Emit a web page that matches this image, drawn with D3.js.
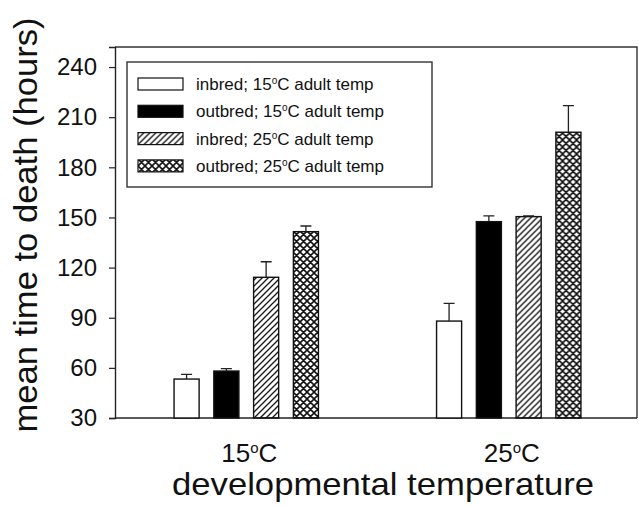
<!DOCTYPE html>
<html>
<head>
<meta charset="utf-8">
<script src="https://cdn.jsdelivr.net/npm/d3@7"></script>
<style>
	body { margin: 0; background: #fff; }
	text { font-family: "Liberation Sans", Arial, sans-serif; fill: #111; }
</style>
</head>
<body>
<div id="chart"></div>
<script>

// developmental temperature groups (degrees C)
const groups = ['15', '25'];

// series = line x adult temperature
const seriesLines = ['inbred', 'outbred', 'inbred', 'outbred'];
const seriesTemps = ['15', '15', '25', '25'];

// mean time to death (hours), one row per group
const means = [
	[53.3, 58.1, 114.2, 141.5],
	[88.0, 147.5, 150.5, 201.0]
];

// upper error (SE)
const errors = [
	[2.8, 1.5, 9.3, 3.4],
	[10.6, 3.4, 0.5, 15.9]
];

const yTicks = [30, 60, 90, 120, 150, 180, 210, 240];

class GroupedBars {

	constructor(options) {
		this.element = options.element;
		this.draw();
	}

	draw() {
		this.width = 639;
		this.height = 506;
		this.left = 115;
		this.right = 637;
		this.top = 47;
		this.bottom = 418;

		this.createSVG();
		this.createPatterns();
		this.createScales();
		this.createAxes();
		this.createBars();
		this.createLegend();
	}

	createSVG() {
		this.svg = d3.select(this.element)
			.append('svg')
				.attr('width', this.width)
				.attr('height', this.height);
	}

	createPatterns() {
		const defs = this.svg.append('defs');

		defs.append('pattern')
			.attr('id', 'hatch')
			.attr('patternUnits', 'userSpaceOnUse')
			.attr('width', 6).attr('height', 6)
			.append('path')
				.attr('d', 'M0,6 L6,0 M-1,1 L1,-1 M5,7 L7,5')
				.attr('stroke', '#111')
				.attr('stroke-width', 1.3);

		defs.append('pattern')
			.attr('id', 'cross')
			.attr('patternUnits', 'userSpaceOnUse')
			.attr('width', 7).attr('height', 7)
			.append('path')
				.attr('d', 'M0,7 L7,0 M-1,1 L1,-1 M6,8 L8,6 M0,0 L7,7 M-1,6 L1,8 M6,-1 L8,1')
				.attr('stroke', '#111')
				.attr('stroke-width', 1.6);

		this.fills = ['#fff', '#000', 'url(#hatch)', 'url(#cross)'];
	}

	createScales() {
		this.x0 = d3.scaleBand()
			.domain(groups)
			.range([this.left, this.right + 3])
			.paddingInner(0.45)
			.paddingOuter(0.225);

		this.x1 = d3.scaleBand()
			.domain(d3.range(seriesLines.length))
			.range([0, this.x0.bandwidth()])
			.paddingInner(0.37)
			.paddingOuter(0);

		this.y = d3.scaleLinear()
			.domain([30, 252])
			.range([this.bottom, this.top]);
	}

	// "15" + superscript o + "C" (shift in px so it comes back to the baseline)
	degree(sel, num, rest, supSize, shift) {
		sel.append('tspan').text(num);
		sel.append('tspan').attr('dy', -shift).attr('font-size', supSize).text('o');
		sel.append('tspan').attr('dy', shift).text(rest);
	}

	createAxes() {
		const that = this;

		// frame
		this.svg.append('path')
			.attr('d', `M${this.left},${this.top} H${this.right} V${this.bottom}`)
			.attr('fill', 'none')
			.attr('stroke', '#333')
			.attr('stroke-width', 1.4);

		const yAxis = d3.axisLeft(this.y)
			.tickValues(yTicks)
			.tickSize(6)
			.tickPadding(12);

		const gy = this.svg.append('g')
			.attr('transform', `translate(${this.left},0)`)
			.call(yAxis);
		gy.select('.domain').attr('stroke', '#222').attr('stroke-width', 1.4);
		gy.selectAll('.tick line').attr('stroke', '#222').attr('stroke-width', 1.2);
		gy.selectAll('.tick text')
			.attr('font-size', 24)
			.attr('font-family', '"Liberation Sans", Arial, sans-serif')
			.attr('fill', '#111');

		// x baseline
		this.svg.append('line')
			.attr('x1', this.left).attr('x2', this.right)
			.attr('y1', this.y(30)).attr('y2', this.y(30))
			.attr('stroke', '#222')
			.attr('stroke-width', 1.4);

		this.svg.selectAll('.xlab')
			.data(groups).enter()
			.append('text')
				.attr('class', 'xlab')
				.attr('x', d => that.x0(d) + that.x0.bandwidth() / 2 + 3)
				.attr('y', 462)
				.attr('text-anchor', 'middle')
				.attr('font-size', 26)
				.each(function(d) { that.degree(d3.select(this), d, 'C', 15, 9); });

		this.svg.append('text')
			.attr('x', 383)
			.attr('y', 495)
			.attr('text-anchor', 'middle')
			.attr('font-size', 32)
			.attr('textLength', 422)
			.attr('lengthAdjust', 'spacingAndGlyphs')
			.text('developmental temperature');

		this.svg.append('text')
			.attr('transform', 'translate(37,225) rotate(-90)')
			.attr('text-anchor', 'middle')
			.attr('font-size', 34)
			.attr('textLength', 415)
			.attr('lengthAdjust', 'spacingAndGlyphs')
			.text('mean time to death (hours)');
	}

	createBars() {
		const that = this;

		const rows = groups.map((g, gi) => seriesLines.map((s, si) => ({
			group: g, i: si, mean: means[gi][si], err: errors[gi][si]
		})));

		const g = this.svg.selectAll('.group')
			.data(rows).enter()
			.append('g')
				.attr('transform', (d, gi) => `translate(${that.x0(groups[gi])},0)`);

		g.selectAll('rect')
			.data(d => d).enter()
			.append('rect')
				.attr('x', d => that.x1(d.i))
				.attr('y', d => that.y(d.mean))
				.attr('width', this.x1.bandwidth())
				.attr('height', d => that.y(30) - that.y(d.mean))
				.attr('fill', d => that.fills[d.i])
				.attr('stroke', '#111')
				.attr('stroke-width', 1.4);

		// error bars, upward only
		g.selectAll('.err')
			.data(d => d).enter()
			.append('path')
				.attr('class', 'err')
				.attr('d', d => {
					const cx = that.x1(d.i) + that.x1.bandwidth() / 2;
					const y0 = that.y(d.mean), y1 = that.y(d.mean + d.err);
					return `M${cx},${y0} V${y1} M${cx - 5.5},${y1} H${cx + 5.5}`;
				})
				.attr('fill', 'none')
				.attr('stroke', '#222')
				.attr('stroke-width', 1.3);
	}

	createLegend() {
		const that = this;

		this.svg.append('rect')
			.attr('x', 127).attr('y', 62)
			.attr('width', 305).attr('height', 125)
			.attr('fill', '#fff')
			.attr('stroke', '#333')
			.attr('stroke-width', 1.4);

		const item = this.svg.selectAll('.leg')
			.data(seriesLines).enter()
			.append('g')
				.attr('class', 'leg')
				.attr('transform', (d, i) => `translate(138,${84 + i * 27.3})`);

		item.append('rect')
			.attr('x', 0).attr('y', -6)
			.attr('width', 45).attr('height', 12)
			.attr('fill', (d, i) => that.fills[i])
			.attr('stroke', '#111')
			.attr('stroke-width', 1.2);

		item.append('text')
			.attr('x', 58)
			.attr('y', 6)
			.attr('font-size', 17)
			.each(function(d, i) {
				that.degree(d3.select(this), d + '; ' + seriesTemps[i], 'C adult temp', 10, 6);
			});
	}

}

new GroupedBars({ element: '#chart' });

</script>
</body>
</html>
